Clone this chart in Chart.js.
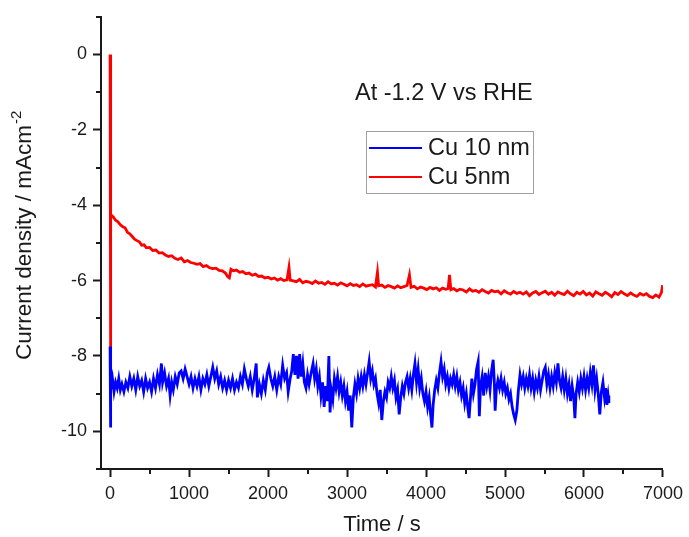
<!DOCTYPE html>
<html>
<head>
<meta charset="utf-8">
<script src="https://cdn.jsdelivr.net/npm/chart.js@4.4.1/dist/chart.umd.min.js"></script>
<style>
  body { margin: 0; background: #fff; }
  #wrap { width: 689px; height: 537px; }
</style>
</head>
<body>
<div id="wrap"><canvas id="chart" width="689" height="537"></canvas></div>
<script>
// chronoamperometry at -1.2 V vs RHE

const seriesNames = ['Cu 10 nm', 'Cu 5nm'];
const seriesColors = ['#0000ff', '#ff0000'];

const xTicks = [0, 1000, 2000, 3000, 4000, 5000, 6000, 7000];
const xMinorTicks = [500, 1500, 2500, 3500, 4500, 5500, 6500];
const yTicks = [0, -2, -4, -6, -8, -10];
const yMinorTicks = [1, -1, -3, -5, -7, -9, -11];

const blueTime = [
  0, 4, 10, 30, 50, 70, 90, 110, 130, 150, 175, 200, 225, 250, 275, 300, 325, 350, 375, 400,
  425, 450, 475, 500, 525, 550, 575, 600, 625, 650, 665, 690, 715, 740, 760, 780, 800, 825, 850, 875,
  900, 925, 950, 975, 1000, 1025, 1050, 1075, 1100, 1125, 1150, 1175, 1200, 1225, 1250, 1275, 1300, 1325, 1350, 1375,
  1400, 1425, 1450, 1475, 1500, 1525, 1550, 1575, 1600, 1625, 1650, 1675, 1700, 1725, 1750, 1775, 1800, 1825, 1850, 1865,
  1890, 1915, 1940, 1965, 1990, 2010, 2035, 2060, 2085, 2110, 2135, 2160, 2185, 2210, 2235, 2255, 2280, 2300, 2320, 2340,
  2360, 2380, 2400, 2420, 2440, 2460, 2480, 2500, 2520, 2545, 2570, 2590, 2610, 2630, 2650, 2670, 2690, 2710, 2730, 2750,
  2770, 2785, 2800, 2820, 2840, 2860, 2880, 2900, 2920, 2940, 2960, 2980, 3000, 3020, 3040, 3060, 3080, 3100, 3120, 3140,
  3160, 3180, 3200, 3220, 3240, 3260, 3280, 3300, 3320, 3340, 3360, 3380, 3400, 3420, 3440, 3460, 3480, 3500, 3520, 3540,
  3560, 3580, 3600, 3620, 3640, 3660, 3680, 3700, 3720, 3740, 3760, 3780, 3800, 3820, 3840, 3860, 3880, 3900, 3920, 3940,
  3960, 3980, 4000, 4020, 4040, 4060, 4075, 4090, 4110, 4130, 4150, 4170, 4190, 4210, 4230, 4250, 4270, 4290, 4310, 4330,
  4350, 4370, 4390, 4410, 4430, 4450, 4470, 4490, 4510, 4530, 4545, 4560, 4580, 4600, 4620, 4640, 4660, 4675, 4690, 4710,
  4730, 4750, 4770, 4790, 4810, 4830, 4850, 4865, 4875, 4890, 4910, 4930, 4950, 4970, 4990, 5010, 5030, 5050, 5070, 5090,
  5110, 5130, 5150, 5170, 5190, 5210, 5230, 5250, 5270, 5290, 5310, 5330, 5350, 5370, 5390, 5410, 5430, 5450, 5470, 5490,
  5510, 5530, 5550, 5570, 5590, 5610, 5630, 5650, 5670, 5690, 5710, 5730, 5750, 5770, 5790, 5810, 5830, 5850, 5870, 5885,
  5900, 5920, 5940, 5960, 5980, 6000, 6020, 6040, 6060, 6080, 6100, 6120, 6140, 6160, 6180, 6200, 6220, 6240, 6260, 6275,
  6290, 6305, 6315
];
const blueCurrent = [
  -7.75, -9.9, -8.9, -8.6, -8.95, -8.7, -8.85, -8.6, -8.9, -8.75, -8.95, -8.7, -8.85, -8.55, -8.8, -8.6, -8.9, -8.55, -8.8, -8.65,
  -8.95, -8.6, -8.85, -8.7, -8.95, -8.6, -8.85, -8.5, -8.75, -8.2, -8.7, -8.45, -8.8, -8.6, -9.05, -8.7, -8.9, -8.55, -8.75, -8.45,
  -8.4, -8.6, -8.35, -8.55, -8.75, -8.55, -8.85, -8.6, -8.8, -8.55, -8.9, -8.6, -8.75, -8.5, -8.8, -8.55, -8.3, -8.6, -8.4, -8.75,
  -8.55, -8.85, -8.65, -8.9, -8.65, -8.85, -8.6, -8.9, -8.7, -8.85, -8.55, -8.75, -8.35, -8.6, -8.8, -8.55, -8.9, -8.6, -8.2, -9.1,
  -8.75, -9.0, -8.65, -8.9, -8.45, -8.3, -8.6, -8.8, -8.55, -8.9, -8.55, -8.75, -8.25, -8.6, -8.45, -8.95, -8.6, -8.4, -7.95, -8.5,
  -8.0, -8.6, -7.95, -8.55, -8.2, -8.7, -8.85, -8.5, -8.75, -8.45, -8.2, -8.6, -8.35, -8.8, -8.55, -9.05, -8.7, -9.35, -8.8, -9.2,
  -8.0, -9.5, -8.9, -9.15, -8.6, -8.85, -8.55, -8.95, -8.7, -9.05, -8.8, -9.2, -8.95, -9.45, -9.05, -9.9, -9.1, -8.75, -9.0, -8.6,
  -8.85, -8.55, -8.8, -8.5, -8.75, -8.45, -8.15, -8.6, -8.4, -8.75, -8.6, -9.0, -9.25, -8.9, -9.7, -9.2, -8.95, -9.1, -8.7, -8.85,
  -8.55, -8.85, -8.65, -9.1, -8.9, -9.55, -9.1, -8.8, -9.0, -8.7, -8.55, -8.85, -8.6, -8.9, -8.5, -8.2, -8.7, -8.35, -8.85, -8.6,
  -9.0, -9.2, -8.95, -9.35, -9.1, -9.6, -9.9, -9.3, -8.9, -8.65, -8.85, -8.45, -8.15, -8.55, -8.35, -8.75, -8.55, -8.85, -8.6, -8.75,
  -8.5, -8.8, -8.55, -8.9, -8.7, -9.05, -8.85, -9.25, -9.0, -9.4, -9.65, -9.2, -8.6, -9.0, -8.75, -8.35, -8.15, -9.6, -8.8, -8.55,
  -9.05, -8.45, -8.8, -8.55, -8.9, -8.4, -8.1, -8.7, -9.45, -8.9, -8.65, -8.85, -8.6, -8.9, -8.7, -9.0, -8.85, -9.15, -9.0, -9.35,
  -9.55, -9.7, -9.45, -8.9, -8.5, -8.75, -8.55, -8.85, -8.6, -8.8, -8.5, -8.85, -8.6, -8.95, -8.65, -8.85, -8.55, -8.9, -8.65, -8.4,
  -8.3, -8.75, -8.5, -8.85, -8.55, -8.8, -8.45, -8.7, -8.2, -8.65, -8.85, -8.55, -8.9, -8.6, -9.0, -8.75, -9.2, -8.8, -9.1, -9.65,
  -9.0, -8.7, -8.95, -8.6, -8.85, -8.55, -8.9, -8.6, -8.85, -8.45, -8.75, -8.25, -8.9, -8.6, -9.0, -9.55, -8.95, -8.7, -9.1, -8.85,
  -9.3, -9.05, -9.25
];

const redTime = [
  0, 4, 10, 40, 70, 100, 130, 160, 190, 220, 250, 280, 310, 340, 370, 400, 430, 460, 500, 540,
  580, 620, 660, 700, 740, 780, 820, 860, 900, 940, 980, 1020, 1060, 1100, 1140, 1180, 1220, 1260, 1300, 1340,
  1380, 1420, 1460, 1490, 1510, 1530, 1560, 1600, 1640, 1680, 1720, 1760, 1800, 1840, 1880, 1920, 1960, 2000, 2040, 2080,
  2120, 2160, 2200, 2240, 2265, 2280, 2320, 2360, 2400, 2440, 2480, 2520, 2560, 2600, 2640, 2680, 2720, 2760, 2800, 2840,
  2880, 2920, 2960, 3000, 3040, 3080, 3120, 3160, 3200, 3240, 3280, 3320, 3360, 3385, 3400, 3440, 3480, 3520, 3560, 3600,
  3640, 3680, 3720, 3760, 3790, 3810, 3850, 3890, 3930, 3970, 4010, 4050, 4090, 4130, 4170, 4210, 4250, 4280, 4297, 4315,
  4350, 4390, 4430, 4470, 4510, 4550, 4590, 4630, 4670, 4710, 4750, 4790, 4830, 4870, 4910, 4950, 4990, 5030, 5070, 5110,
  5150, 5190, 5230, 5270, 5310, 5350, 5390, 5430, 5470, 5510, 5550, 5590, 5630, 5670, 5710, 5750, 5790, 5830, 5870, 5910,
  5950, 5990, 6030, 6070, 6110, 6150, 6190, 6230, 6270, 6310, 6350, 6390, 6430, 6470, 6510, 6550, 6590, 6630, 6670, 6710,
  6750, 6790, 6830, 6870, 6910, 6950, 6980, 6995
];
const redCurrent = [
  0, -7.8, -4.25, -4.31, -4.4, -4.44, -4.52, -4.57, -4.6, -4.72, -4.76, -4.83, -4.9, -4.94, -4.97, -5.06, -5.05, -5.13, -5.12, -5.2,
  -5.19, -5.27, -5.26, -5.32, -5.36, -5.34, -5.41, -5.44, -5.4, -5.5, -5.47, -5.52, -5.54, -5.57, -5.55, -5.63, -5.6, -5.66, -5.68, -5.67,
  -5.73, -5.74, -5.8, -5.9, -5.93, -5.7, -5.74, -5.72, -5.78, -5.76, -5.82, -5.8, -5.86, -5.83, -5.89, -5.88, -5.93, -5.91, -5.96, -5.93,
  -5.99, -5.95, -6.0, -5.98, -5.65, -5.99, -6.01, -6.03, -5.97, -6.06, -6.02, -6.04, -6.08, -6.01, -6.07, -6.05, -6.1, -6.03, -6.09, -6.07,
  -6.12, -6.06, -6.1, -6.14, -6.08, -6.13, -6.11, -6.16, -6.09, -6.15, -6.13, -6.11, -6.17, -5.78, -6.14, -6.12, -6.18, -6.13, -6.16, -6.2,
  -6.14, -6.19, -6.16, -6.13, -5.85, -6.18, -6.15, -6.22, -6.17, -6.2, -6.24, -6.18, -6.22, -6.19, -6.26, -6.2, -6.23, -6.21, -5.85, -6.24,
  -6.21, -6.27, -6.23, -6.25, -6.3, -6.22, -6.28, -6.26, -6.31, -6.24, -6.29, -6.33, -6.26, -6.3, -6.28, -6.35, -6.27, -6.32, -6.36, -6.29,
  -6.34, -6.31, -6.36, -6.3, -6.4, -6.33, -6.29, -6.37, -6.32, -6.28, -6.36, -6.31, -6.39, -6.3, -6.34, -6.37, -6.28, -6.35, -6.4, -6.31,
  -6.36, -6.29, -6.38, -6.33, -6.41, -6.3, -6.35, -6.39, -6.31, -6.36, -6.43, -6.32, -6.37, -6.29, -6.35, -6.4, -6.33, -6.38, -6.42, -6.34,
  -6.39, -6.35, -6.42, -6.45, -6.38, -6.44, -6.32, -6.12
];

const toPoints = (xs, ys) => xs.map((x, i) => ({ x: x, y: ys[i] }));

const textColor = '#1a1a1a';
const fontFamily = "'Liberation Sans', Arial, sans-serif";

// minor ticks, y title with superscript, the annotation and the boxed legend
const extrasPlugin = {
    id: 'extras',
    afterDraw(chart) {
        const ctx = chart.ctx;
        const xs = chart.scales.x;
        const ys = chart.scales.y;
        const area = chart.chartArea;
        ctx.save();
        ctx.strokeStyle = textColor;
        ctx.lineWidth = 2;
        xMinorTicks.forEach(v => {
            const px = Math.round(xs.getPixelForValue(v));
            ctx.beginPath();
            ctx.moveTo(px, area.bottom);
            ctx.lineTo(px, area.bottom + 5);
            ctx.stroke();
        });
        yMinorTicks.forEach(v => {
            const py = Math.round(ys.getPixelForValue(v));
            ctx.beginPath();
            ctx.moveTo(area.left, py);
            ctx.lineTo(area.left - 5, py);
            ctx.stroke();
        });

        ctx.fillStyle = textColor;

        // y axis title, rotated
        ctx.save();
        ctx.translate(25, 360);
        ctx.rotate(-Math.PI / 2);
        ctx.textAlign = 'left';
        ctx.textBaseline = 'middle';
        ctx.font = '22.5px ' + fontFamily;
        const main = 'Current density / mAcm';
        ctx.fillText(main, 0, 0);
        const w = ctx.measureText(main).width;
        ctx.font = '15px ' + fontFamily;
        ctx.fillText('-2', w + 1, -8);
        ctx.restore();

        ctx.font = '23.5px ' + fontFamily;
        ctx.textBaseline = 'middle';
        ctx.textAlign = 'left';
        ctx.fillText('At -1.2 V vs RHE', 355, 94);

        // legend box
        ctx.strokeStyle = '#a0a0a0';
        ctx.lineWidth = 1;
        ctx.strokeRect(366.5, 131.5, 167, 62);
        chart.data.datasets.forEach((ds, i) => {
            const y = 148 + i * 29;
            ctx.strokeStyle = ds.borderColor;
            ctx.lineWidth = 2;
            ctx.beginPath();
            ctx.moveTo(369, y);
            ctx.lineTo(422, y);
            ctx.stroke();
            ctx.fillStyle = textColor;
            ctx.fillText(ds.label, 428, y + 1);
        });
        ctx.restore();
    }
};

new Chart(document.getElementById('chart'), {
    type: 'line',
    data: {
        datasets: [{
            label: seriesNames[0],
            data: toPoints(blueTime, blueCurrent),
            borderColor: seriesColors[0],
            borderWidth: 2.8,
            pointRadius: 0,
            tension: 0
        }, {
            label: seriesNames[1],
            data: toPoints(redTime, redCurrent),
            borderColor: seriesColors[1],
            borderWidth: 2.8,
            pointRadius: 0,
            tension: 0
        }]
    },
    options: {
        responsive: false,
        animation: false,
        layout: {
            padding: { left: 0, right: 24, top: 14, bottom: 0 }
        },
        plugins: {
            legend: { display: false },
            tooltip: { enabled: false }
        },
        scales: {
            x: {
                type: 'linear',
                min: -115,
                max: 7000,
                afterBuildTicks: s => { s.ticks = xTicks.map(v => ({ value: v })); },
                afterFit: s => { s.height = 68; },
                border: { display: true, color: textColor, width: 2 },
                grid: { display: true, drawOnChartArea: false, drawTicks: true, tickLength: 8, tickColor: textColor, tickWidth: 2 },
                ticks: {
                    color: textColor,
                    font: { size: 18, family: fontFamily },
                    padding: 6,
                    maxRotation: 0,
                    callback: v => String(v)
                },
                title: {
                    display: true,
                    text: 'Time / s',
                    color: textColor,
                    font: { size: 22, family: fontFamily, lineHeight: 1 },
                    padding: { top: 0, bottom: 1 }
                }
            },
            y: {
                min: -11,
                max: 1,
                afterBuildTicks: s => { s.ticks = yTicks.map(v => ({ value: v })); },
                afterFit: s => { s.width = 101; },
                border: { display: true, color: textColor, width: 2 },
                grid: { display: true, drawOnChartArea: false, drawTicks: true, tickLength: 8, tickColor: textColor, tickWidth: 2 },
                ticks: {
                    color: textColor,
                    font: { size: 18, family: fontFamily },
                    padding: 6,
                    callback: v => String(v)
                },
                title: { display: false }
            }
        }
    },
    plugins: [extrasPlugin]
});
</script>
</body>
</html>
